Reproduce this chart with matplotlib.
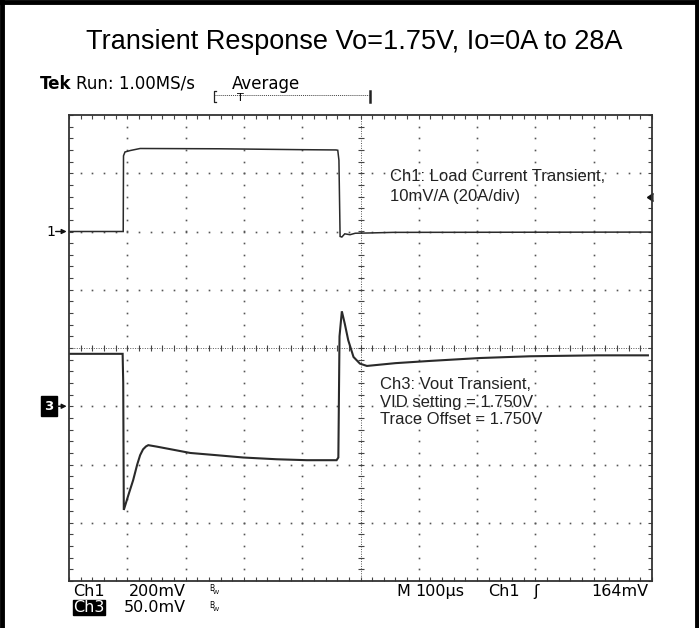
"""
示波器截图重绘：负载瞬态响应 Vo=1.75V, Io=0A to 28A
"""

import numpy as np
import matplotlib
matplotlib.use("Agg")
import matplotlib.pyplot as plt
from matplotlib.lines import Line2D

W, H = 699, 628

# ── 数据 ──────────────────────────────────────
# Ch1: 负载电流 (A)，20A/div
ch1_t = [0, 93, 93.5, 96, 105, 122, 259, 396, 458, 461, 463, 465, 468,
         473, 482, 491, 516, 556, 1000]
ch1_i = [0, 0, 26.0, 27.3, 27.8, 28.5, 28.4, 28.1, 28.0, 27.9, 24.5, -1.7,
         -1.9, -0.8, -1.1, -0.6, -0.5, -0.3, -0.2]

# Ch3: 输出电压偏差 (mV)，相对 1.750V 偏置，50mV/div
ch3_t = [0, 92, 93, 94, 102, 110, 117, 122, 127, 132, 136, 150, 168, 208,
         253, 299, 356, 408, 459, 462, 464, 468, 473, 479, 488, 499, 511,
         560, 619, 705, 791, 906, 993]
ch3_mv = [45, 45, 20, -89, -76, -63.5, -50, -42, -37, -34.5, -33.4, -34.6,
          -36.3, -40.1, -42, -44, -45.5, -46.3, -46.3, -44, 60, 81.5, 70.9,
          56.6, 42.3, 36.6, 34.6, 37, 38.9, 41.4, 42.9, 43.7, 43.7]

ch1_amp_per_div = 20.0
ch3_mv_per_div = 50.0
ch1_ground_div = 2.0    # Ch1 地线位置（距中心的格数）
ch3_ground_div = -1.0
trig_level_div = 2.59

title = "Transient Response Vo=1.75V, Io=0A to 28A"
ch1_note = ["Ch1: Load Current Transient,", "10mV/A (20A/div)"]
ch3_note = ["Ch3: Vout Transient,", "VID setting = 1.750V",
            "Trace Offset = 1.750V"]

SCOPE_FONT = "DejaVu Sans"
SCOPE_SIZE = 11.5
TRACE = "#2a2a2a"


def fx(x):
    return x / W


def fy(y):
    return 1 - y / H


fig = plt.figure(figsize=(W / 100, H / 100), dpi=100)
ax = fig.add_axes([fx(69), fy(581), 583 / W, 466 / H])
ax.set_xlim(0, 1000)
ax.set_ylim(-4, 4)

# 边框刻度
ax.set_xticks(np.arange(0, 1001, 100))
ax.set_xticks(np.arange(0, 1001, 20), minor=True)
ax.set_yticks(np.arange(-4, 4.01, 1))
ax.set_yticks(np.arange(-4, 4.01, 0.2), minor=True)
ax.tick_params(which="both", direction="in", length=2.6, width=0.8,
               color="#444", top=True, right=True,
               labelbottom=False, labelleft=False)
for sp in ax.spines.values():
    sp.set_linewidth(1.3)
    sp.set_color("#333")

# 网格点
xs_minor = np.arange(20, 1000, 20)
ys_minor = np.arange(-3.8, 3.81, 0.2)
for xv in range(100, 1000, 100):
    if xv == 500:
        continue
    ax.plot(np.full_like(ys_minor, xv), ys_minor, ls="none", marker="s",
            ms=1.2, mew=0, color="#555")
for yv in range(-3, 4):
    if yv == 0:
        continue
    ax.plot(xs_minor, np.full_like(xs_minor, yv, dtype=float), ls="none",
            marker="s", ms=1.2, mew=0, color="#555")

# 中心十字线
ax.axhline(0, color="#555", lw=0.7, ls=(0, (1, 1.5)))
ax.axvline(500, color="#555", lw=0.7, ls=(0, (1, 1.5)))
ax.plot(xs_minor, np.zeros_like(xs_minor, dtype=float), ls="none",
        marker="|", ms=4, mew=0.8, color="#444")
ax.plot(np.full_like(ys_minor, 500), ys_minor, ls="none",
        marker="_", ms=4, mew=0.8, color="#444")

# 波形
ch1_y = ch1_ground_div + np.array(ch1_i) / ch1_amp_per_div
ch3_y = ch3_ground_div + np.array(ch3_mv) / ch3_mv_per_div
ax.plot(ch1_t, ch1_y, color=TRACE, lw=1.1, solid_joinstyle="miter")
ax.plot(ch3_t, ch3_y, color=TRACE, lw=1.5, solid_joinstyle="miter")

# 注释
for i, line in enumerate(ch1_note):
    fig.text(fx(390), fy(181 + 20 * i), line, fontsize=12, color="#222",
             family="Liberation Sans", va="baseline")
for i, line in enumerate(ch3_note):
    fig.text(fx(380), fy(389 + 17.5 * i), line, fontsize=12, color="#222",
             family="Liberation Sans", va="baseline")
# 触发电平标记
ax.plot([992], [trig_level_div], marker=4, ms=6, color="#111", clip_on=False)

# 左侧通道标记
arrow_kw = dict(arrowstyle="-|>", lw=1.0, color="#111", mutation_scale=7,
                shrinkA=0, shrinkB=0)
ax.text(-0.024, ch1_ground_div, "1", transform=ax.get_yaxis_transform(),
        ha="right", va="center", fontsize=10, family=SCOPE_FONT)
ax.annotate("", xy=(-0.004, ch1_ground_div), xytext=(-11, 0),
            xycoords=ax.get_yaxis_transform(), textcoords="offset pixels",
            arrowprops=arrow_kw)
ax.text(-0.027, ch3_ground_div, "3", transform=ax.get_yaxis_transform(),
        ha="right", va="center", fontsize=9.5, color="white", weight="bold",
        family=SCOPE_FONT,
        bbox=dict(boxstyle="square,pad=0.25", fc="black", ec="black"))
ax.annotate("", xy=(-0.004, ch3_ground_div), xytext=(-10, 0),
            xycoords=ax.get_yaxis_transform(), textcoords="offset pixels",
            arrowprops=arrow_kw)

# 标题与示波器状态栏
fig.text(fx(354), fy(49), title, ha="center", va="baseline", fontsize=19.5,
         family="Liberation Sans")
fig.text(fx(40), fy(89), "Tek", fontsize=12, weight="bold",
         family=SCOPE_FONT, va="baseline")
fig.text(fx(76), fy(89), "Run: 1.00MS/s", fontsize=12,
         family=SCOPE_FONT, va="baseline")
fig.text(fx(232), fy(89), "Average", fontsize=12,
         family=SCOPE_FONT, va="baseline")
fig.add_artist(Line2D([fx(215), fx(369)], [fy(95), fy(95)], color="#444",
                      lw=0.7, ls=(0, (1, 1))))
fig.add_artist(Line2D([fx(216), fx(214), fx(214), fx(216)],
                      [fy(91), fy(91), fy(102), fy(102)],
                      color="#222", lw=0.9))
fig.add_artist(Line2D([fx(370), fx(370)], [fy(91), fy(102)],
                      color="#222", lw=1.8))
fig.text(fx(240), fy(101), "T", fontsize=8, family=SCOPE_FONT, ha="center",
         va="baseline")


def scope_text(x, y, s, **kw):
    fig.text(fx(x), fy(y), s, fontsize=SCOPE_SIZE, family=SCOPE_FONT,
             va="baseline", **kw)


def bw_mark(x, y):
    fig.text(fx(x), fy(y), "B", fontsize=5.5, family=SCOPE_FONT,
             va="baseline")
    fig.text(fx(x + 4), fy(y + 3), "W", fontsize=4.5, family=SCOPE_FONT,
             va="baseline")


scope_text(73, 596, "Ch1")
scope_text(129, 596, "200mV")
bw_mark(209, 591)
scope_text(73, 612, "Ch3", color="white",
           bbox=dict(boxstyle="square,pad=0.02", fc="black", ec="black"))
scope_text(124, 612, "50.0mV")
bw_mark(209, 608)
scope_text(396, 596, "M")
scope_text(415, 596, "100µs")
scope_text(488, 596, "Ch1")
scope_text(533, 596, "\u0283")
scope_text(648, 596, "164mV", ha="right")

# 外框
for xs, ys in [([2, 2], [0, H]), ([0, W], [2, 2]), ([W - 2, W - 2], [0, H])]:
    fig.add_artist(Line2D([fx(v) for v in xs], [fy(v) for v in ys],
                          color="black", lw=3.5))

fig.savefig("out.png", dpi=100)
